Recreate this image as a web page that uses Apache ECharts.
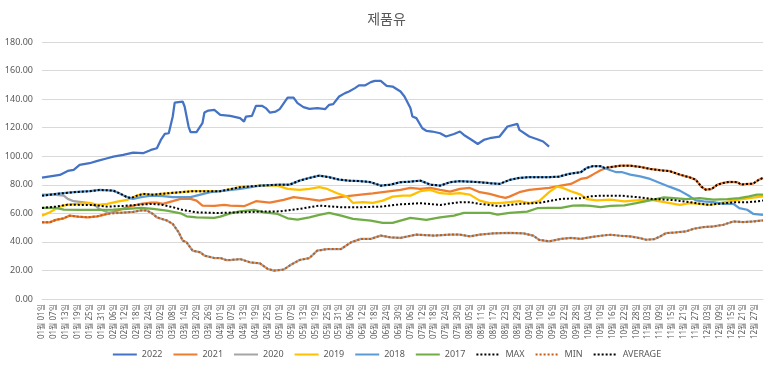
<!DOCTYPE html>
<html>
<head>
<meta charset="utf-8">
<script src="https://cdn.jsdelivr.net/npm/echarts@6/dist/echarts.min.js"></script>
<style>
html,body{margin:0;padding:0;background:#fff;}
#chart{width:773px;height:370px;}
</style>
</head>
<body>
<div id="chart"></div>
<script>
// Daily categories 01월 01일 ... 12월 31일
const monthDays = [31,28,31,30,31,30,31,31,30,31,30,31];
const categories = [];
monthDays.forEach((n, m) => {
  for (let d = 1; d <= n; d++) {
    categories.push(String(m + 1).padStart(2, '0') + '월 ' + String(d).padStart(2, '0') + '일');
  }
});

const yTicks = [0, 20, 40, 60, 80, 100, 120, 140, 160, 180];
const seriesNames = ['2022','2021','2020','2019','2018','2017','MAX','MIN','AVERAGE'];

// [day index, value]
const y2022 = [[0,85.0],[9,86.9],[13,89.7],[16,90.4],[19,93.9],[24,95.1],[28,96.7],[33,98.6],[36,99.7],[41,100.9],[46,102.5],[51,102.1],[55,104.4],[58,105.6],[60,111.4],[62,115.6],[64,116.1],[66,127.8],[67,137.6],[71,138.3],[72,134.8],[74,120.8],[75,116.8],[78,116.8],[81,123.1],[82,130.6],[84,132.0],[87,132.5],[90,129.0],[95,128.3],[100,126.7],[102,124.3],[103,127.8],[106,128.3],[108,135.3],[111,135.3],[113,133.7],[115,130.6],[118,131.3],[120,133.0],[124,141.1],[127,141.1],[129,137.2],[132,134.4],[135,133.2],[139,133.7],[143,133.0],[145,136.0],[147,136.5],[150,141.8],[153,144.2],[155,145.3],[158,147.7],[160,149.6],[163,149.6],[166,151.9],[168,152.8],[171,152.8],[174,149.3],[177,148.8],[181,145.3],[183,141.8],[186,133.7],[187,127.8],[189,126.7],[192,119.6],[194,117.8],[197,117.3],[201,116.1],[204,113.8],[208,115.6],[211,117.3],[213,114.9],[217,111.4],[220,108.6],[223,111.4],[226,112.6],[231,113.8],[235,120.8],[240,122.7],[241,118.5],[246,113.8],[250,111.9],[253,110.3],[256,106.7]];

const y2021 = [[0,53.7],[4,53.7],[7,55.4],[11,56.5],[14,58.4],[18,57.7],[23,57.2],[28,57.9],[33,59.6],[39,62.4],[44,64.7],[50,66.6],[55,67.5],[58,67.5],[61,66.6],[66,68.5],[70,70.1],[75,70.1],[78,68.9],[81,65.4],[87,65.2],[92,65.9],[95,65.4],[102,65.0],[108,68.5],[115,67.5],[122,69.4],[127,71.3],[134,70.1],[140,68.9],[145,70.1],[152,71.7],[161,73.1],[167,74.0],[174,75.2],[181,76.4],[186,77.8],[191,77.1],[196,77.8],[201,76.4],[206,75.2],[211,77.1],[216,77.8],[221,74.8],[226,73.6],[231,71.7],[234,70.8],[236,71.7],[241,74.8],[246,76.4],[251,77.1],[256,77.8],[262,79.4],[267,80.6],[272,84.1],[275,84.8],[278,87.1],[282,90.2],[285,91.8],[292,93.4],[297,93.4],[302,92.5],[307,91.1],[312,90.2],[317,89.5],[322,87.1],[327,85.2],[330,83.6],[333,78.5],[335,76.6],[338,77.0],[341,80.1],[344,81.3],[347,82.0],[351,81.8],[353,80.1],[356,80.6],[359,80.8],[362,83.6],[364,84.8]];

const y2020 = [[0,73.1],[6,73.1],[11,72.4],[13,70.1],[16,68.5],[23,67.3],[27,65.4],[29,63.0],[33,60.7],[34,60.0],[39,60.3],[46,61.0],[50,62.0],[53,62.0],[56,59.6],[58,57.2],[63,55.0],[66,52.6],[69,46.7],[71,40.9],[73,39.7],[76,33.9],[80,32.7],[82,30.4],[87,28.7],[90,28.7],[93,27.3],[95,27.3],[100,28.0],[105,25.7],[110,25.0],[114,21.0],[117,19.9],[122,20.6],[125,23.4],[130,27.3],[135,28.7],[139,33.9],[144,35.0],[151,35.0],[156,39.7],[161,42.1],[166,42.1],[171,44.4],[176,43.2],[181,42.8],[189,45.1],[198,44.4],[206,45.1],[211,45.1],[216,43.9],[221,45.1],[228,46.0],[236,46.3],[243,46.0],[248,44.4],[251,41.4],[256,40.4],[262,42.1],[267,42.8],[272,42.1],[277,43.3],[282,44.3],[287,45.0],[292,44.3],[297,43.8],[302,42.6],[305,41.5],[309,41.9],[312,43.8],[315,46.1],[320,46.6],[325,47.3],[329,49.2],[334,50.4],[339,50.8],[344,52.0],[349,54.3],[354,53.9],[359,54.3],[364,55.0]];

const y2019 = [[0,58.4],[4,60.7],[9,64.7],[13,66.1],[18,66.6],[24,67.3],[28,65.9],[33,66.6],[38,68.2],[43,69.4],[48,72.4],[51,73.6],[56,73.1],[63,74.0],[70,74.8],[76,75.5],[83,75.5],[90,75.5],[100,78.3],[110,79.4],[119,79.4],[124,77.1],[130,76.4],[135,77.1],[140,78.3],[144,77.1],[149,74.1],[154,71.7],[157,67.3],[162,67.8],[167,67.3],[172,68.9],[177,71.7],[182,72.4],[186,72.4],[191,75.5],[196,76.4],[201,74.1],[206,73.6],[211,74.1],[216,73.1],[221,68.9],[226,67.1],[231,67.1],[236,67.8],[241,68.5],[246,67.1],[251,68.5],[256,74.8],[260,78.7],[263,77.8],[267,75.5],[272,73.1],[275,70.0],[280,69.1],[287,69.6],[294,68.4],[300,69.1],[307,69.6],[312,68.4],[317,67.2],[322,66.0],[327,67.2],[332,66.7],[337,66.0],[342,67.2],[347,68.4],[352,69.6],[357,70.7],[364,71.9]];

const y2018 = [[0,72.4],[7,73.6],[16,74.8],[24,75.5],[29,76.4],[36,75.9],[39,74.1],[43,71.3],[46,70.1],[50,71.3],[55,72.4],[61,72.1],[66,71.3],[75,71.3],[80,73.1],[85,74.8],[90,75.5],[100,77.1],[110,79.4],[120,80.1],[125,80.1],[130,82.9],[135,84.8],[140,86.4],[145,85.3],[150,83.6],[155,82.9],[161,82.5],[166,81.8],[171,79.4],[176,80.1],[181,81.8],[186,82.2],[191,82.9],[196,80.1],[201,79.4],[206,81.8],[211,82.5],[221,81.8],[226,81.1],[231,80.6],[236,83.4],[241,84.8],[246,85.3],[256,85.3],[261,85.7],[266,87.6],[272,88.8],[275,91.8],[278,93.0],[282,93.0],[284,91.8],[287,90.2],[290,88.8],[293,88.8],[297,87.1],[302,85.9],[307,84.1],[312,81.3],[317,78.5],[322,75.9],[327,71.9],[330,69.1],[334,68.4],[339,67.9],[344,66.7],[349,66.7],[352,63.7],[356,62.5],[359,59.7],[364,59.0]];

const y2017 = [[0,63.8],[7,63.8],[11,62.6],[19,62.4],[28,62.4],[36,62.6],[43,63.1],[50,63.8],[56,63.1],[63,61.9],[70,60.0],[73,57.9],[78,57.2],[87,56.8],[90,57.7],[95,60.0],[100,61.4],[107,62.4],[112,60.7],[119,59.6],[124,56.5],[129,55.6],[135,57.2],[140,58.9],[145,60.3],[151,58.4],[157,56.1],[166,54.9],[172,53.3],[177,53.3],[181,54.9],[186,56.8],[194,55.4],[201,57.2],[208,58.4],[213,60.3],[221,60.3],[226,60.3],[230,59.1],[236,60.3],[245,61.2],[250,63.6],[256,63.8],[262,63.8],[268,65.4],[273,65.6],[277,65.3],[282,64.4],[287,65.3],[294,65.6],[300,67.2],[307,69.1],[314,71.2],[319,70.7],[325,70.0],[332,70.7],[339,69.6],[346,70.0],[352,70.7],[357,71.9],[361,73.1],[364,73.1]];

const yMax = [[0,72.4],[7,73.6],[16,74.8],[24,75.5],[29,76.4],[36,75.9],[39,74.1],[43,71.3],[45,70.7],[48,72.4],[51,73.6],[56,73.1],[63,74.0],[70,74.8],[76,75.5],[83,75.5],[90,75.5],[100,78.3],[110,79.4],[120,80.1],[125,80.1],[130,82.9],[135,84.8],[140,86.4],[145,85.3],[150,83.6],[155,82.9],[161,82.5],[166,81.8],[171,79.4],[176,80.1],[181,81.8],[186,82.2],[191,82.9],[196,80.1],[201,79.4],[206,81.8],[211,82.5],[221,81.8],[226,81.1],[231,80.6],[236,83.4],[241,84.8],[246,85.3],[256,85.3],[261,85.7],[266,87.6],[272,88.8],[275,91.8],[278,93.0],[282,93.0],[284,91.8],[285,91.8],[292,93.4],[297,93.4],[302,92.5],[307,91.1],[312,90.2],[317,89.5],[322,87.1],[327,85.2],[330,83.6],[333,78.5],[335,76.6],[338,77.0],[341,80.1],[344,81.3],[347,82.0],[351,81.8],[353,80.1],[356,80.6],[359,80.8],[362,83.6],[364,84.8]];

const yMin = [[0,53.7],[4,53.7],[7,55.4],[11,56.5],[14,58.4],[18,57.7],[23,57.2],[28,57.9],[33,59.6],[34,60.0],[39,60.3],[46,61.0],[50,62.0],[53,62.0],[56,59.6],[58,57.2],[63,55.0],[66,52.6],[69,46.7],[71,40.9],[73,39.7],[76,33.9],[80,32.7],[82,30.4],[87,28.7],[90,28.7],[93,27.3],[95,27.3],[100,28.0],[105,25.7],[110,25.0],[114,21.0],[117,19.9],[122,20.6],[125,23.4],[130,27.3],[135,28.7],[139,33.9],[144,35.0],[151,35.0],[156,39.7],[161,42.1],[166,42.1],[171,44.4],[176,43.2],[181,42.8],[189,45.1],[198,44.4],[206,45.1],[211,45.1],[216,43.9],[221,45.1],[228,46.0],[236,46.3],[243,46.0],[248,44.4],[251,41.4],[256,40.4],[262,42.1],[267,42.8],[272,42.1],[277,43.3],[282,44.3],[287,45.0],[292,44.3],[297,43.8],[302,42.6],[305,41.5],[309,41.9],[312,43.8],[315,46.1],[320,46.6],[325,47.3],[329,49.2],[334,50.4],[339,50.8],[344,52.0],[349,54.3],[354,53.9],[359,54.3],[364,55.0]];

const yAvg = [[0,63.8],[7,64.7],[13,66.1],[19,65.9],[26,65.9],[33,64.7],[41,65.2],[50,66.1],[56,66.6],[61,65.9],[66,64.3],[71,62.4],[78,60.7],[87,60.3],[90,60.3],[100,60.7],[110,61.2],[120,61.4],[130,63.1],[140,65.4],[151,64.3],[161,64.3],[171,64.7],[181,66.3],[191,67.1],[201,65.9],[211,67.8],[216,67.8],[221,66.6],[231,65.0],[241,66.6],[251,67.3],[262,70.1],[272,70.6],[277,71.9],[283,72.4],[292,72.4],[300,71.4],[309,70.0],[315,69.6],[320,69.1],[327,67.9],[332,66.7],[337,66.0],[342,66.7],[349,67.7],[356,67.7],[361,68.4],[364,69.0]];

const seriesData = [y2022, y2021, y2020, y2019, y2018, y2017, yMax, yMin, yAvg];
const colors = ['#4472C4','#ED7D31','#A5A5A5','#FFC000','#5B9BD5','#70AD47','#000000','#C55A11','#000000'];
const FONT = "'Noto Sans', 'Noto Sans CJK KR', sans-serif";

const chart = echarts.init(document.getElementById('chart'), null, {renderer: 'canvas'});
chart.setOption({
  animation: false,
  backgroundColor: '#ffffff',
  title: {
    text: '제품유',
    left: 'center',
    top: 8,
    textStyle: {fontFamily: FONT, fontSize: 14, fontWeight: 'normal', color: '#595959'}
  },
  legend: {
    bottom: 6,
    left: 'center',
    itemWidth: 24,
    itemHeight: 8,
    itemGap: 10,
    data: seriesNames,
    itemStyle: {opacity: 0},
    textStyle: {fontFamily: FONT, fontSize: 9, color: '#595959'}
  },
  grid: {left: 42, right: 10, top: 42, bottom: 71, containLabel: false},
  xAxis: {
    type: 'category',
    data: categories,
    boundaryGap: false,
    axisLine: {lineStyle: {color: '#D9D9D9'}},
    axisTick: {show: false},
    axisLabel: {
      interval: 5,
      rotate: 90,
      fontSize: 8,
      margin: 5,
      color: '#595959',
      fontFamily: FONT
    },
    splitLine: {show: false}
  },
  yAxis: {
    type: 'value',
    min: yTicks[0],
    max: yTicks[yTicks.length - 1],
    interval: 20,
    axisLine: {show: false},
    axisTick: {show: false},
    axisLabel: {
      formatter: v => v.toFixed(2),
      fontSize: 9,
      color: '#595959',
      margin: 9,
      fontFamily: FONT
    },
    splitLine: {lineStyle: {color: '#D9D9D9', width: 1}}
  },
  series: seriesNames.map((name, i) => ({
    name: name,
    type: 'line',
    data: seriesData[i],
    symbol: 'none',
    showSymbol: false,
    smooth: false,
    color: colors[i],
    lineStyle: {
      width: i >= 6 ? 2 : 2.25,
      color: colors[i],
      type: i >= 6 ? [2, 2] : 'solid'
    },
    itemStyle: {color: colors[i]},
    z: 2 + i
  }))
});
</script>
</body>
</html>
